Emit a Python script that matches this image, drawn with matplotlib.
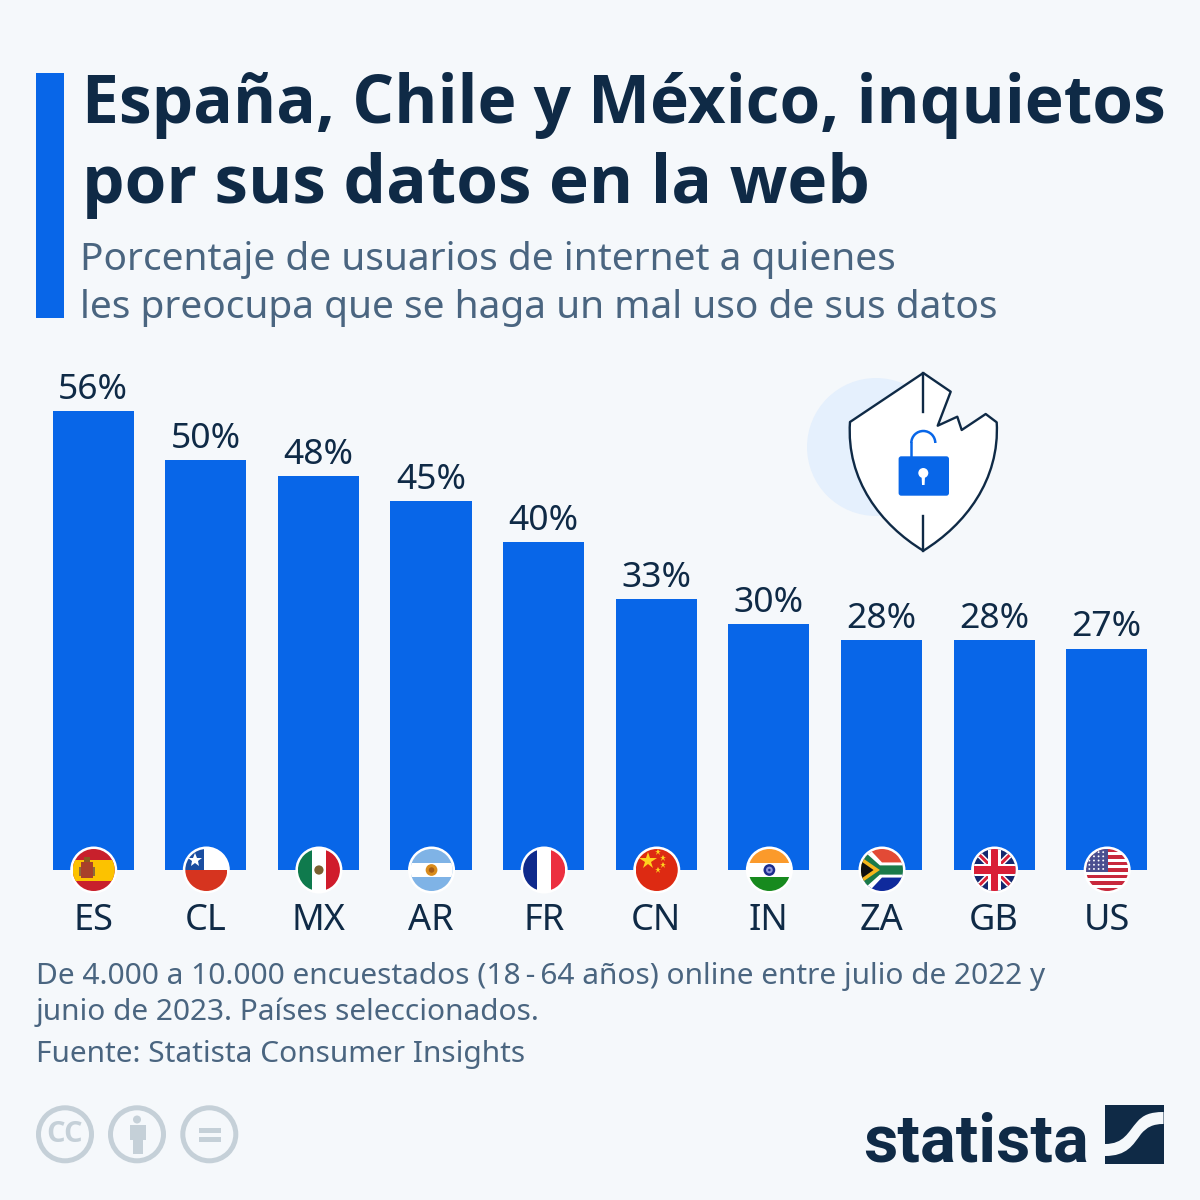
import matplotlib
matplotlib.use('Agg')
import matplotlib.pyplot as plt
import numpy as np
from matplotlib.patches import Circle, Rectangle, Polygon, PathPatch, FancyBboxPatch, Arc
from matplotlib.path import Path

countries = ['ES', 'CL', 'MX', 'AR', 'FR', 'CN', 'IN', 'ZA', 'GB', 'US']
values = [56, 50, 48, 45, 40, 33, 30, 28, 28, 27]

title_lines = ['España, Chile y México, inquietos', 'por sus datos en la web']
subtitle_lines = ['Porcentaje de usuarios de internet a quienes',
                  'les preocupa que se haga un mal uso de sus datos']
note_lines = ['De 4.000 a 10.000 encuestados (18\u2009-\u200964 años) online entre julio de 2022 y',
              'junio de 2023. Países seleccionados.',
              'Fuente: Statista Consumer Insights']

BG = '#f5f8fb'
BLUE = '#0866e8'
NAVY = '#0f2a46'
SLATE = '#4a6580'
GREY = '#c5d0d8'

plt.rcParams['font.family'] = ['Noto Sans', 'DejaVu Sans']

fig = plt.figure(figsize=(12, 12), dpi=100, facecolor=BG)

# bar chart, axes placed so that 1% = 8.2 px and the baseline sits at y=870
ax = fig.add_axes([36.9 / 1200, 1 - 870 / 1200, 1126.1 / 1200, 492 / 1200], zorder=1)
ax.patch.set_alpha(0)
x = np.arange(len(countries))
bars = ax.bar(x, values, width=0.72, color=BLUE)
ax.bar_label(bars, labels=[f'{v}%' for v in values], padding=3, fontsize=25.5, color=NAVY)
ax.set_xlim(-0.5, 9.5)
ax.set_ylim(0, 60)
ax.set_yticks([])
ax.set_xticks(x, countries)
ax.tick_params(axis='x', length=0, pad=24, labelsize=26, labelcolor=NAVY)
for s in ax.spines.values():
    s.set_visible(False)

# overlay in pixel coordinates for everything else
ov = fig.add_axes([0, 0, 1, 1], zorder=2)
ov.set_xlim(0, 1200)
ov.set_ylim(1200, 0)
ov.axis('off')

ov.add_patch(Rectangle((36, 73), 28, 245, color=BLUE, lw=0))
for line, y, size in zip(title_lines, [123, 203], [47.3, 48.6]):
    ov.text(82, y, line, fontsize=size, fontweight='bold', color=NAVY, va='baseline',
            family=['Open Sans', 'DejaVu Sans'])
for line, y in zip(subtitle_lines, [270, 318]):
    ov.text(80, y, line, fontsize=28, color=SLATE, va='baseline')
for line, y in zip(note_lines, [984, 1020, 1062]):
    ov.text(36, y, line, fontsize=21.5, color=SLATE, va='baseline')


def make_flag(cx, cy, r=21):
    """Returns small helpers drawing clipped shapes in flag units (-1..1)."""
    ov.add_patch(Circle((cx, cy), r + 2.5, color='white', lw=0, zorder=3))
    clip = Circle((cx, cy), r, color='white', lw=0, zorder=3)
    ov.add_patch(clip)

    def rect(x0, y0, x1, y1, color):
        p = Rectangle((cx + x0 * r, cy + y0 * r), (x1 - x0) * r, (y1 - y0) * r, color=color, lw=0, zorder=4)
        ov.add_patch(p)
        p.set_clip_path(clip)

    def poly(pts, color):
        p = Polygon([(cx + a * r, cy + b * r) for a, b in pts], color=color, lw=0, zorder=4)
        ov.add_patch(p)
        p.set_clip_path(clip)

    def dot(a, b, rad, color):
        p = Circle((cx + a * r, cy + b * r), rad * r, color=color, lw=0, zorder=5)
        ov.add_patch(p)
        p.set_clip_path(clip)

    def star(a, b, size, color):
        ov.plot([cx + a * r], [cy + b * r], marker='*', ms=size, color=color, mew=0, zorder=5)

    return rect, poly, dot, star


def draw_flag(code, cx, cy):
    rect, poly, dot, star = make_flag(cx, cy)
    if code == 'ES':
        rect(-1, -1, 1, 1, '#c8202c')
        rect(-1, -0.5, 1, 0.5, '#fcc200')
        rect(-0.6, -0.4, -0.05, 0.4, '#a8402a')
        rect(-0.72, -0.15, -0.6, 0.3, '#8c6a3c')
        rect(-0.05, -0.15, 0.07, 0.3, '#8c6a3c')
        rect(-0.45, -0.6, -0.2, -0.4, '#8c5a20')
    elif code == 'CL':
        rect(-1, -1, 1, 0, 'white')
        rect(-1, 0, 1, 1, '#d6341f')
        rect(-1, -1, -0.1, 0, '#1a4da0')
        star(-0.52, -0.5, 10, 'white')
    elif code == 'MX':
        rect(-1, -1, -0.34, 1, '#0f7a4d')
        rect(-0.34, -1, 0.34, 1, 'white')
        rect(0.34, -1, 1, 1, '#d01c2c')
        dot(0, 0, 0.22, '#7a6030')
    elif code == 'AR':
        rect(-1, -1, 1, 1, '#7fb3e6')
        rect(-1, -0.34, 1, 0.34, 'white')
        dot(0, 0, 0.28, '#d98c1c')
        dot(0, 0, 0.13, '#a85c14')
    elif code == 'FR':
        rect(-1, -1, -0.34, 1, '#0f2a8c')
        rect(-0.34, -1, 0.34, 1, 'white')
        rect(0.34, -1, 1, 1, '#ec2f40')
    elif code == 'CN':
        rect(-1, -1, 1, 1, '#dd2a12')
        star(-0.42, -0.45, 13, '#ffd21e')
        for a, b in [(0.05, -0.85), (0.28, -0.55), (0.28, -0.22), (0.05, 0.0)]:
            star(a, b, 5, '#ffd21e')
    elif code == 'IN':
        rect(-1, -1, 1, -0.34, '#fb9a2b')
        rect(-1, -0.34, 1, 0.34, 'white')
        rect(-1, 0.34, 1, 1, '#178a1e')
        dot(0, 0, 0.28, '#1c2c8c')
        dot(0, 0, 0.16, '#8c94d8')
        dot(0, 0, 0.06, '#1c2c8c')
    elif code == 'ZA':
        rect(-1, -1, 1, 0, '#e24a36')
        rect(-1, 0, 1, 1, '#0f2a9c')
        poly([(-1, -1), (-0.6, -1), (0, -0.36), (1, -0.36), (1, 0.36), (0, 0.36), (-0.6, 1), (-1, 1)], 'white')
        poly([(-1, -0.8), (-0.75, -0.8), (-0.1, -0.22), (1, -0.22), (1, 0.22), (-0.1, 0.22), (-0.75, 0.8), (-1, 0.8)], '#1a7a4a')
        poly([(-1, -0.62), (-0.1, 0), (-1, 0.62)], '#f6b61c')
        poly([(-1, -0.42), (-0.4, 0), (-1, 0.42)], '#111111')
    elif code == 'GB':
        rect(-1, -1, 1, 1, '#14286e')
        poly([(-1, -0.8), (-0.8, -1), (1, 0.8), (0.8, 1)], 'white')
        poly([(1, -0.8), (0.8, -1), (-1, 0.8), (-0.8, 1)], 'white')
        poly([(-1, -0.9), (-0.9, -1), (1, 0.9), (0.9, 1)], '#d91f36')
        poly([(1, -0.9), (0.9, -1), (-1, 0.9), (-0.9, 1)], '#d91f36')
        rect(-1, -0.3, 1, 0.3, 'white')
        rect(-0.3, -1, 0.3, 1, 'white')
        rect(-1, -0.17, 1, 0.17, '#d91f36')
        rect(-0.17, -1, 0.17, 1, '#d91f36')
    elif code == 'US':
        rect(-1, -1, 1, 1, 'white')
        for k in range(7):
            y0 = -1 + k * 2 / 6.5
            rect(-1, y0, 1, y0 + 2 / 13, '#c8283c')
        rect(-1, -1, 0.05, 0.08, '#4a4f90')
        for a in np.arange(-0.85, 0, 0.22):
            for b in np.arange(-0.85, 0.05, 0.2):
                dot(a, b, 0.045, 'white')


fig.canvas.draw()
for i, code in enumerate(countries):
    px, _ = ax.transData.transform((i, 0))
    draw_flag(code, px + 0.5, 870)

# shield illustration
ov.add_patch(Circle((876, 447), 69, color='#e5f0fd', lw=0, zorder=1))
shield_verts = [(923.3, 373), (950.7, 391.7), (937.7, 425.7), (957.3, 416.7), (961.7, 430),
                (985.7, 414), (996.7, 422.3),
                (1000, 480), (965, 525), (923.3, 550.7),
                (881, 525), (846, 480), (850, 422), (923.3, 373)]
shield_codes = [Path.MOVETO, Path.LINETO, Path.LINETO, Path.LINETO, Path.LINETO, Path.LINETO, Path.LINETO,
                Path.CURVE4, Path.CURVE4, Path.CURVE4,
                Path.CURVE4, Path.CURVE4, Path.CURVE4, Path.LINETO]
ov.add_patch(PathPatch(Path(shield_verts, shield_codes), facecolor='white', edgecolor=NAVY, lw=1.7,
                       joinstyle='round', zorder=2))
ov.plot([923.3, 923.3], [373, 412], color=NAVY, lw=1.7, zorder=3)
ov.plot([923.3, 923.3], [516, 550.7], color=NAVY, lw=1.7, zorder=3)
ov.add_patch(Arc((923.3, 443), 24, 24, theta1=180, theta2=360, color=BLUE, lw=1.8, zorder=3))
ov.plot([911.3, 911.3], [443, 456], color=BLUE, lw=1.8, zorder=3)
ov.add_patch(FancyBboxPatch((899.3, 457), 49, 38, boxstyle='round,pad=0,rounding_size=2', color=BLUE, lw=1, zorder=4))
ov.add_patch(Circle((923.3, 473), 5, color='white', lw=0, zorder=5))
ov.add_patch(Polygon([(921.5, 474), (925.1, 474), (924.6, 485), (922, 485)], color='white', lw=0, zorder=5))

# licence icons
for cx in [65, 137, 209.3]:
    ov.add_patch(Circle((cx, 1134.3), 26.5, facecolor='none', edgecolor=GREY, lw=3.6))
ov.text(65, 1134, 'CC', fontsize=21, fontweight='bold', color=GREY, ha='center', va='center',
        family=['Open Sans', 'DejaVu Sans'])
ov.add_patch(Circle((137, 1119.5), 4, color=GREY, lw=0))
ov.add_patch(Rectangle((129.5, 1125), 16, 15, color=GREY, lw=0))
ov.add_patch(Rectangle((132.5, 1140), 10, 13.5, color=GREY, lw=0))
ov.add_patch(Rectangle((199, 1127.5), 21.5, 5, color=GREY, lw=0))
ov.add_patch(Rectangle((199, 1137), 21.5, 5, color=GREY, lw=0))

# statista logo
ov.text(863, 1162, 'statista', fontsize=48, fontweight='bold', color=NAVY, va='baseline',
        family=['Roboto', 'DejaVu Sans'])
ov.add_patch(Rectangle((1105, 1105), 58.5, 59, color=NAVY, lw=0))
swoosh = Path([(1105, 1144), (1124, 1144), (1128, 1132), (1137, 1122), (1143, 1115), (1150, 1112), (1163.5, 1112),
               (1163.5, 1124), (1153, 1124), (1147, 1127), (1141, 1134), (1133, 1145), (1127, 1156), (1105, 1156),
               (1105, 1144)],
              [Path.MOVETO, Path.CURVE4, Path.CURVE4, Path.CURVE4, Path.CURVE4, Path.CURVE4, Path.CURVE4,
               Path.LINETO, Path.CURVE4, Path.CURVE4, Path.CURVE4, Path.CURVE4, Path.CURVE4, Path.CURVE4,
               Path.CLOSEPOLY])
ov.add_patch(PathPatch(swoosh, facecolor=BG, edgecolor='none'))

fig.savefig('out.png', dpi=100, facecolor=BG)
